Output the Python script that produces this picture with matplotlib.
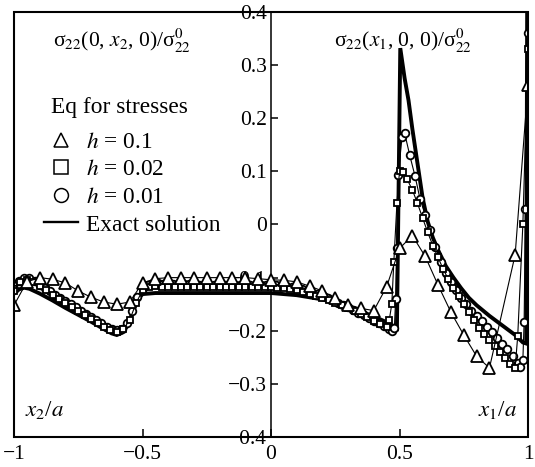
import matplotlib
matplotlib.use("Agg")
import matplotlib.pyplot as plt
from matplotlib.lines import Line2D
from matplotlib.patches import Rectangle

plt.rcParams['font.family'] = ['Liberation Serif', 'DejaVu Serif']
plt.rcParams['mathtext.fontset'] = 'stix'
plt.rcParams['axes.unicode_minus'] = True

# ---------------- data ----------------
# Exact solution
exact_x = [-1.00, -0.98, -0.96, -0.94, -0.90, -0.85, -0.80, -0.75, -0.70, -0.65,
           -0.62, -0.60, -0.58, -0.56, -0.54, -0.52, -0.50, -0.45, -0.30, -0.10,
           0.00, 0.10, 0.20, 0.30, 0.40, 0.45, 0.48, 0.490, 0.503, 0.52,
           0.535, 0.55, 0.57, 0.59, 0.61, 0.63, 0.65, 0.68, 0.71, 0.74,
           0.77, 0.80, 0.85, 0.90, 0.95, 0.98, 0.993, 0.997]
exact_y = [-0.130, -0.122, -0.119, -0.121, -0.130, -0.143, -0.157, -0.170, -0.183, -0.197,
           -0.205, -0.208, -0.204, -0.192, -0.168, -0.142, -0.131, -0.129, -0.129, -0.129,
           -0.129, -0.133, -0.141, -0.155, -0.173, -0.184, -0.192, -0.195, 0.332, 0.275,
           0.234, 0.180, 0.115, 0.050, 0.005, -0.025, -0.048, -0.078, -0.100, -0.120,
           -0.138, -0.152, -0.172, -0.190, -0.208, -0.222, -0.224, 0.450]

# Eq for stresses, h = 0.1 (triangles)
tri_x = [-1.00, -0.95, -0.90, -0.85, -0.80, -0.75, -0.70, -0.65, -0.60, -0.55,
         -0.50, -0.45, -0.40, -0.35, -0.30, -0.25, -0.20, -0.15, -0.10, -0.05,
         0.00, 0.05, 0.10, 0.15, 0.20, 0.25, 0.30, 0.35, 0.40, 0.45,
         0.50, 0.55, 0.60, 0.65, 0.70, 0.75, 0.80, 0.85, 0.95, 1.00]
tri_y = [-0.152, -0.108, -0.100, -0.103, -0.110, -0.125, -0.137, -0.146, -0.150, -0.146,
         -0.110, -0.102, -0.100, -0.100, -0.100, -0.100, -0.100, -0.100, -0.100, -0.102,
         -0.104, -0.105, -0.108, -0.116, -0.125, -0.139, -0.151, -0.158, -0.162, -0.117,
         -0.045, -0.021, -0.060, -0.114, -0.165, -0.208, -0.248, -0.270, -0.057, 0.263]

# Eq for stresses, h = 0.02 (squares)
sq_x = [-1.000, -0.975, -0.950, -0.925, -0.900, -0.875, -0.850, -0.825, -0.800, -0.775,
        -0.750, -0.725, -0.700, -0.675, -0.650, -0.625, -0.600, -0.575, -0.550, -0.525,
        -0.500, -0.475, -0.450, -0.425, -0.400, -0.375, -0.350, -0.325, -0.300, -0.275,
        -0.250, -0.225, -0.200, -0.175, -0.150, -0.125, -0.100, -0.075, -0.050, -0.025,
        0.000, 0.025, 0.050, 0.075, 0.100, 0.125, 0.150, 0.175, 0.200, 0.225,
        0.250, 0.275, 0.300, 0.325, 0.350, 0.375, 0.400, 0.425, 0.450, 0.460,
        0.470, 0.478, 0.490, 0.500, 0.515, 0.530, 0.550, 0.570, 0.590, 0.610,
        0.630, 0.650, 0.670, 0.690, 0.710, 0.730, 0.750, 0.770, 0.790, 0.810,
        0.830, 0.850, 0.870, 0.890, 0.910, 0.930, 0.950, 0.960, 0.980, 1.000]
sq_y = [-0.125, -0.108, -0.104, -0.108, -0.116, -0.124, -0.132, -0.140, -0.148, -0.156,
        -0.163, -0.170, -0.177, -0.185, -0.192, -0.199, -0.202, -0.197, -0.180, -0.148,
        -0.124, -0.117, -0.116, -0.117, -0.117, -0.117, -0.118, -0.118, -0.118, -0.118,
        -0.118, -0.118, -0.118, -0.118, -0.118, -0.118, -0.118, -0.118, -0.118, -0.118,
        -0.118, -0.119, -0.120, -0.122, -0.124, -0.127, -0.130, -0.134, -0.138, -0.142,
        -0.147, -0.152, -0.158, -0.163, -0.169, -0.175, -0.181, -0.187, -0.193, -0.180,
        -0.150, -0.070, 0.040, 0.100, 0.098, 0.085, 0.065, 0.040, 0.012, -0.015,
        -0.040, -0.062, -0.084, -0.103, -0.120, -0.135, -0.150, -0.165, -0.180, -0.194,
        -0.207, -0.218, -0.229, -0.240, -0.251, -0.262, -0.270, -0.210, 0.000, 0.330]

# Eq for stresses, h = 0.01 (circles)
circ_x = [-1.00, -0.98, -0.96, -0.94, -0.92, -0.90, -0.88, -0.86, -0.84, -0.82,
          -0.80, -0.78, -0.76, -0.74, -0.72, -0.70, -0.68, -0.66, -0.64, -0.62,
          -0.60, -0.58, -0.56, -0.54, -0.52, -0.50, -0.48, -0.46, -0.44, -0.42,
          -0.40, -0.38, -0.36, -0.34, -0.32, -0.30, -0.28, -0.26, -0.24, -0.22,
          -0.20, -0.18, -0.16, -0.14, -0.12, -0.10, -0.08, -0.06, -0.04, -0.02,
          0.00, 0.02, 0.04, 0.06, 0.08, 0.10, 0.12, 0.14, 0.16, 0.18,
          0.20, 0.22, 0.24, 0.26, 0.28, 0.30, 0.32, 0.34, 0.36, 0.38,
          0.40, 0.42, 0.44, 0.46, 0.47, 0.48, 0.485, 0.49, 0.495, 0.51,
          0.52, 0.54, 0.56, 0.58, 0.60, 0.62, 0.64, 0.66, 0.68, 0.70,
          0.72, 0.74, 0.76, 0.78, 0.80, 0.82, 0.84, 0.86, 0.88, 0.90,
          0.92, 0.94, 0.96, 0.97, 0.98, 0.985, 0.99, 1.00]
circ_y = [-0.122, -0.106, -0.100, -0.101, -0.106, -0.113, -0.120, -0.126, -0.132, -0.138,
          -0.144, -0.150, -0.156, -0.162, -0.168, -0.174, -0.180, -0.186, -0.192, -0.197,
          -0.199, -0.196, -0.185, -0.162, -0.136, -0.120, -0.113, -0.111, -0.111, -0.112,
          -0.112, -0.112, -0.112, -0.112, -0.112, -0.112, -0.113, -0.113, -0.113, -0.113,
          -0.113, -0.113, -0.113, -0.113, -0.113, -0.113, -0.113, -0.113, -0.113, -0.113,
          -0.113, -0.114, -0.115, -0.116, -0.118, -0.120, -0.122, -0.125, -0.128, -0.131,
          -0.135, -0.139, -0.143, -0.147, -0.152, -0.156, -0.161, -0.166, -0.171, -0.176,
          -0.181, -0.186, -0.191, -0.196, -0.200, -0.195, -0.140, -0.045, 0.093, 0.165,
          0.172, 0.130, 0.092, 0.048, 0.018, -0.011, -0.043, -0.071, -0.091, -0.108,
          -0.124, -0.138, -0.150, -0.162, -0.172, -0.182, -0.192, -0.203, -0.213, -0.224,
          -0.235, -0.248, -0.260, -0.268, -0.255, -0.183, 0.030, 0.360]

x_ticks = [-1, -0.5, 0, 0.5, 1]
x_ticklabels = ['\u22121', '\u22120.5', '0', '0.5', '1']
y_ticks = [-0.4, -0.3, -0.2, -0.1, 0, 0.1, 0.2, 0.3, 0.4]
y_ticklabels = ['\u22120.4', '\u22120.3', '\u22120.2', '\u22120.1', '0', '0.1', '0.2', '0.3', '0.4']
legend_title = 'Eq for stresses'
legend_labels = ['$h$ = 0.1', '$h$ = 0.02', '$h$ = 0.01', 'Exact solution']

# ---------------- figure ----------------
fig = plt.figure(figsize=(5.35, 4.67), dpi=100)
ax = fig.add_axes([14 / 535, 1 - 437 / 467, (528 - 14) / 535, (437 - 12) / 467])
ax.set_xlim(-1, 1)
ax.set_ylim(-0.4, 0.4)

mk = dict(color='black', lw=0.8, mfc='white', mec='black', mew=1.3)
ax.plot(exact_x, exact_y, color='black', lw=2.8, zorder=3, solid_joinstyle='miter')
ax.plot(circ_x, circ_y, marker='o', ms=5.5, zorder=4, **mk)
ax.plot(sq_x, sq_y, marker='s', ms=5, zorder=5, **mk)
ax.plot(tri_x, tri_y, marker='^', ms=8, zorder=6, **mk)

# spines
for s in ['top', 'bottom', 'right']:
    ax.spines[s].set_linewidth(1.4)
ax.spines['left'].set_position(('data', 0))
ax.spines['left'].set_linewidth(1.1)
ax.add_patch(Rectangle((0, 0), 1, 1, transform=ax.transAxes, fill=False,
                       lw=1.5, ec='black', clip_on=False, zorder=10))

ax.set_xticks(x_ticks)
ax.set_xticklabels(x_ticklabels)
ax.set_yticks(y_ticks)
ax.set_yticklabels(y_ticklabels)
ax.tick_params(axis='x', direction='in', length=6, width=1.1, labelsize=15.5, pad=6)
ax.tick_params(axis='y', direction='in', length=5, width=1.1, labelsize=15.5, pad=3)

# annotations
ax.text(-0.58, 0.345, '\u03c3$_{22}$(0, $x_2$, 0)/\u03c3$_{22}^{0}$', fontsize=15.5,
        ha='center', va='center')
ax.text(0.515, 0.345, '\u03c3$_{22}$($x_1$, 0, 0)/\u03c3$_{22}^{0}$', fontsize=15.5,
        ha='center', va='center')
ax.text(-0.88, -0.35, '$x_2$/$a$', fontsize=16.5, ha='center', va='center')
ax.text(0.88, -0.35, '$x_1$/$a$', fontsize=16.5, ha='center', va='center')

ax.text(-0.857, 0.221, legend_title, fontsize=16.8, ha='left', va='center')
handles = [
    Line2D([], [], ls='none', marker='^', ms=10, mfc='white', mec='black', mew=1.1),
    Line2D([], [], ls='none', marker='s', ms=10, mfc='white', mec='black', mew=1.1),
    Line2D([], [], ls='none', marker='o', ms=10, mfc='white', mec='black', mew=1.1),
    Line2D([], [], color='black', lw=1.7),
]
leg = ax.legend(handles, legend_labels, loc='upper left',
                bbox_to_anchor=(0.058, 0.719), frameon=False, fontsize=16.8,
                handlelength=1.45, handletextpad=0.35,
                labelspacing=0.27, borderpad=0, borderaxespad=0)

fig.savefig('out.png', dpi=100)
